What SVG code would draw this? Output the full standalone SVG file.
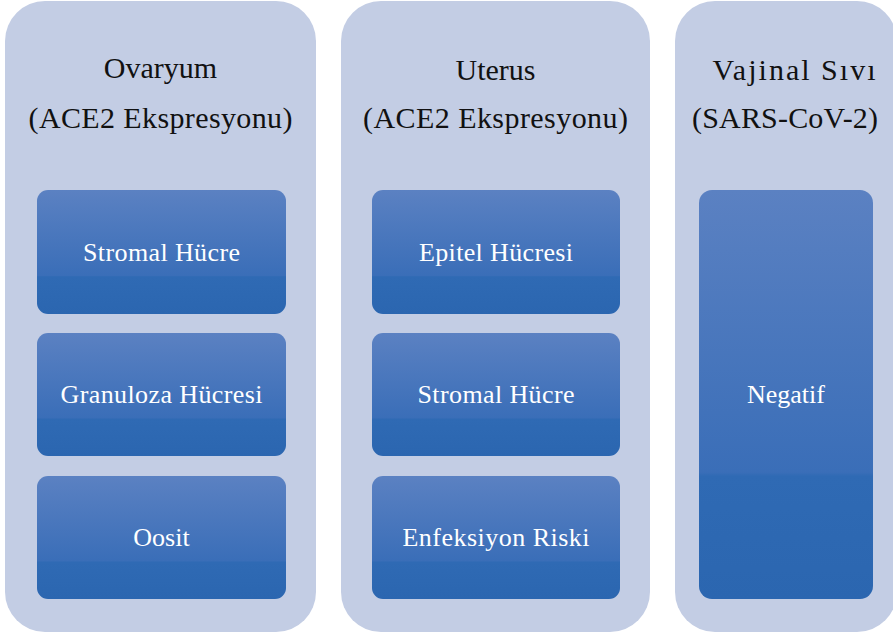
<svg xmlns="http://www.w3.org/2000/svg" width="893" height="634" viewBox="0 0 893 634">
<defs>
<linearGradient id="g" x1="0" y1="0" x2="0" y2="1">
<stop offset="0" stop-color="#5b81c2"/>
<stop offset="0.69" stop-color="#3a6eb8"/>
<stop offset="0.70" stop-color="#2f6ab4"/>
<stop offset="1" stop-color="#2b66b0"/>
</linearGradient>
<style>
.panel{fill:#c3cde4}
.box{fill:url(#g)}
.title{font-size:30px;fill:#111;text-anchor:middle}
.lbl{font-size:26px;fill:#ffffff;text-anchor:middle}
</style>
</defs>
<rect width="893" height="634" fill="#ffffff"/>
<g font-family="Times New Roman, Times, Liberation Serif, serif">
<g id="ovaryum">
<rect class="panel" x="5" y="1" width="311" height="631" rx="40"/>
<text class="title" x="160.5" y="78">Ovaryum</text>
<text class="title" x="160.5" y="128" textLength="264" lengthAdjust="spacing">(ACE2 Ekspresyonu)</text>
</g>
<g id="ov-stromal">
<rect class="box" x="37" y="190" width="249" height="124" rx="11"/>
<text class="lbl" x="161.5" y="261" textLength="157" lengthAdjust="spacing">Stromal Hücre</text>
</g>
<g id="ov-granuloza">
<rect class="box" x="37" y="333" width="249" height="123" rx="11"/>
<text class="lbl" x="161.5" y="403" textLength="202" lengthAdjust="spacing">Granuloza Hücresi</text>
</g>
<g id="ov-oosit">
<rect class="box" x="37" y="476" width="249" height="123" rx="11"/>
<text class="lbl" x="161.5" y="546">Oosit</text>
</g>
<g id="uterus">
<rect class="panel" x="341" y="1" width="309" height="631" rx="40"/>
<text class="title" x="495.5" y="80">Uterus</text>
<text class="title" x="495.5" y="128" textLength="265" lengthAdjust="spacing">(ACE2 Ekspresyonu)</text>
</g>
<g id="ut-epitel">
<rect class="box" x="372" y="190" width="248" height="124" rx="11"/>
<text class="lbl" x="496" y="261" textLength="154" lengthAdjust="spacing">Epitel Hücresi</text>
</g>
<g id="ut-stromal">
<rect class="box" x="372" y="333" width="248" height="123" rx="11"/>
<text class="lbl" x="496" y="403" textLength="157" lengthAdjust="spacing">Stromal Hücre</text>
</g>
<g id="ut-enfeksiyon">
<rect class="box" x="372" y="476" width="248" height="123" rx="11"/>
<text class="lbl" x="496" y="546" textLength="187" lengthAdjust="spacing">Enfeksiyon Riski</text>
</g>
<g id="vajinal">
<rect class="panel" x="675" y="1" width="222" height="631" rx="40"/>
<text class="title" x="794" y="80" textLength="163" lengthAdjust="spacing">Vajinal Sıvı</text>
<text class="title" x="785" y="128" textLength="186" lengthAdjust="spacing">(SARS-CoV-2)</text>
</g>
<g id="va-negatif">
<rect class="box" x="699" y="190" width="174" height="409" rx="13"/>
<text class="lbl" x="786" y="403">Negatif</text>
</g>
</g>
<g id="connectors"/>
</svg>
